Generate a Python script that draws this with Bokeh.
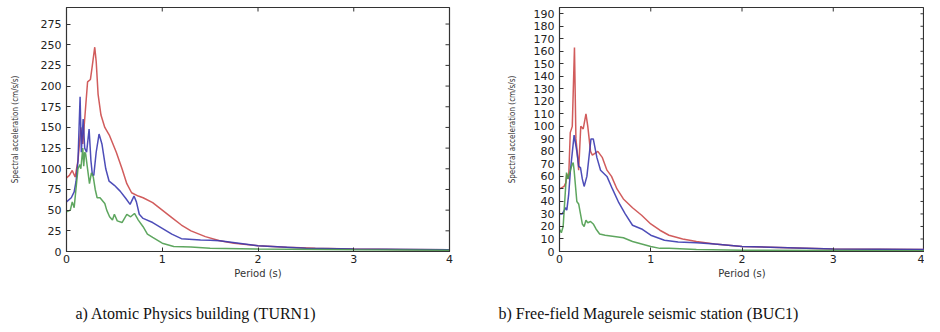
import math
from bokeh.plotting import figure
from bokeh.layouts import row
from bokeh.models import Title, FixedTicker, Range1d
from bokeh.embed import file_html
from bokeh.resources import INLINE

# ---------- data: a) Atomic Physics building (TURN1) ----------
a_red_t = [0, 0.03, 0.06, 0.09, 0.12, 0.15, 0.17, 0.20, 0.22, 0.25, 0.27, 0.295, 0.31, 0.33, 0.36, 0.40, 0.45,
           0.52, 0.58, 0.63, 0.68, 0.75, 0.8, 0.9, 1.0, 1.1, 1.2, 1.3, 1.45, 1.6, 1.75, 2.0, 2.3, 2.6, 3.0, 3.5, 4.0]
a_red_v = [89, 92, 98, 90, 110, 150, 130, 175, 205, 208, 225, 247, 230, 190, 165, 150, 140,
           120, 100, 82, 71, 67, 65, 59, 50, 41, 32, 25, 18, 13, 10, 7, 5, 4, 3, 2.5, 2]

a_blue_t = [0, 0.05, 0.08, 0.10, 0.12, 0.142, 0.155, 0.174, 0.19, 0.21, 0.236, 0.255, 0.27, 0.285, 0.31, 0.34,
            0.37, 0.41, 0.445, 0.5, 0.56, 0.62, 0.664, 0.705, 0.73, 0.76, 0.8, 0.9, 1.0, 1.1, 1.2, 1.4, 1.5,
            1.6, 1.8, 2.0, 2.5, 3.0, 4.0]
a_blue_v = [60, 65, 72, 85, 110, 187, 120, 160, 125, 120, 148, 110, 93, 92, 120, 142,
            130, 100, 85, 80, 73, 64, 57, 67, 60, 45, 40, 35, 28, 21, 15.5, 14, 13.5,
            13, 10, 7, 4, 3, 2]

a_green_t = [0, 0.04, 0.06, 0.08, 0.09, 0.12, 0.14, 0.15, 0.17, 0.18, 0.19, 0.20, 0.22, 0.24, 0.26, 0.28,
             0.30, 0.32, 0.35, 0.40, 0.42, 0.45, 0.48, 0.50, 0.53, 0.58, 0.63, 0.67, 0.71, 0.75, 0.80,
             0.845, 0.9, 1.0, 1.12, 1.3, 1.5, 2.0, 3.0, 4.0]
a_green_v = [48, 50, 60, 53, 65, 100, 105, 100, 125, 103, 120, 118, 100, 82, 95, 90,
             75, 65, 65, 58, 50, 42, 38, 45, 37, 35, 45, 42, 46, 38, 30,
             21, 17, 10, 6, 5.5, 4, 3, 2, 1.5]

# ---------- data: b) Free-field Magurele seismic station (BUC1) ----------
b_red_t = [0, 0.05, 0.07, 0.08, 0.10, 0.118, 0.14, 0.164, 0.18, 0.20, 0.21, 0.233, 0.26, 0.29, 0.31, 0.34,
           0.36, 0.42, 0.47, 0.52, 0.57, 0.63, 0.70, 0.80, 0.90, 1.0, 1.1, 1.2, 1.35, 1.5, 1.7, 2.0, 2.5, 3.0, 4.0]
b_red_v = [50, 52, 55, 62, 58, 95, 100, 163, 90, 75, 65, 100, 98, 110, 100, 80,
           77, 80, 75, 65, 60, 50, 42, 35, 29, 22, 17, 13, 10, 8, 6, 4, 3, 2, 1.5]

b_blue_t = [0, 0.03, 0.07, 0.08, 0.10, 0.12, 0.16, 0.19, 0.21, 0.23, 0.25, 0.27, 0.30, 0.345, 0.37, 0.41,
            0.45, 0.52, 0.58, 0.65, 0.72, 0.80, 0.9, 1.0, 1.15, 1.3, 1.5, 1.7, 2.0, 2.5, 3.0, 4.0]
b_blue_v = [30, 30, 35, 33, 45, 65, 93, 80, 68, 67, 58, 52, 60, 90, 90, 75,
            65, 60, 50, 39, 30, 21, 18, 13, 9, 7.5, 7, 6, 4, 3, 2, 1.5]

b_green_t = [0, 0.02, 0.04, 0.077, 0.09, 0.10, 0.14, 0.15, 0.16, 0.19, 0.21, 0.23, 0.25, 0.27, 0.29, 0.31,
             0.34, 0.37, 0.40, 0.44, 0.5, 0.6, 0.7, 0.8, 0.9, 1.0, 1.1, 1.2, 1.5, 2.0, 3.0, 4.0]
b_green_v = [18, 15, 20, 63, 58, 60, 70, 71, 65, 40, 38, 30, 22, 20, 25, 23,
             24, 22, 18, 14, 13, 12, 11, 8, 6, 4, 2.5, 2.5, 1.5, 1, 0.8, 0.5]

a_yticks = list(range(0, 276, 25))
b_yticks = list(range(0, 191, 10))
xticks = [0, 1, 2, 3, 4]

caption_a = "a) Atomic Physics building (TURN1)"
caption_b = "b) Free-field Magurele seismic station (BUC1)"

RED = "#cc4a4a"
BLUE = "#3a3ab0"
GREEN = "#4c9c4e"
FRAME = "#333333"
TICK_FONT = "DejaVu Sans"
YLAB_FONT = "'Liberation Sans Narrow', 'DejaVu Sans Condensed', 'Liberation Sans', sans-serif"


def make(width, bl, br, ymax, yticks, series, caption, cap_offset, ylab_standoff):
    p = figure(width=width, height=324, output_backend="svg", toolbar_location=None,
               x_range=Range1d(0, 4), y_range=Range1d(0, ymax),
               min_border_left=bl, min_border_right=br, min_border_top=7, min_border_bottom=0,
               x_axis_label="Period (s)", y_axis_label="Spectral acceleration (cm/s/s)")
    p.grid.visible = False
    p.outline_line_color = FRAME
    p.outline_line_width = 1.2
    p.xaxis.ticker = FixedTicker(ticks=xticks)
    p.yaxis.ticker = FixedTicker(ticks=yticks)
    for ax in (p.xaxis[0], p.yaxis[0]):
        ax.major_tick_in = 4
        ax.major_tick_out = 0
        ax.minor_tick_in = 0
        ax.minor_tick_out = 0
        ax.axis_line_color = FRAME
        ax.major_tick_line_color = FRAME
        ax.major_label_text_font = TICK_FONT
        ax.major_label_text_font_size = "11px"
        ax.major_label_text_color = "#222222"
        ax.axis_label_text_font_style = "normal"
        ax.axis_label_text_color = FRAME
    p.xaxis[0].major_label_standoff = 3
    p.yaxis[0].major_label_standoff = 5
    p.xaxis[0].axis_label_standoff = 2
    p.yaxis[0].axis_label_standoff = ylab_standoff
    p.xaxis[0].axis_label_text_font = TICK_FONT
    p.xaxis[0].axis_label_text_font_size = "10px"
    p.yaxis[0].axis_label_text_font = YLAB_FONT
    p.yaxis[0].axis_label_text_font_size = "8px"

    # inward ticks on the top and right edges of the box (clipped to the frame)
    p.scatter(xticks, [ymax] * len(xticks), marker="dash", angle=math.pi / 2, size=8,
              line_color=FRAME, line_width=1)
    p.scatter([4] * len(yticks), yticks, marker="dash", size=8, line_color=FRAME, line_width=1)

    for t, v, c in series:
        p.line(t, v, line_color=c, line_width=1.5, line_alpha=0.9)
    cap = Title(text=caption, align="left", offset=cap_offset, standoff=6,
                padding=(0, 0, 18, 0),
                text_font="Liberation Serif", text_font_size="16px",
                text_font_style="normal", text_color="#111111")
    p.add_layout(cap, "below")
    return p


pa = make(470, 66, 21, 295, a_yticks,
          [(a_red_t, a_red_v, RED), (a_blue_t, a_blue_v, BLUE), (a_green_t, a_green_v, GREEN)],
          caption_a, 9, 18)
pb = make(454, 89, 0, 195, b_yticks,
          [(b_red_t, b_red_v, RED), (b_blue_t, b_blue_v, BLUE), (b_green_t, b_green_v, GREEN)],
          caption_b, -61, 14)

layout = row(pa, pb, spacing=0)
open("out.html", "w").write(file_html(layout, INLINE))
